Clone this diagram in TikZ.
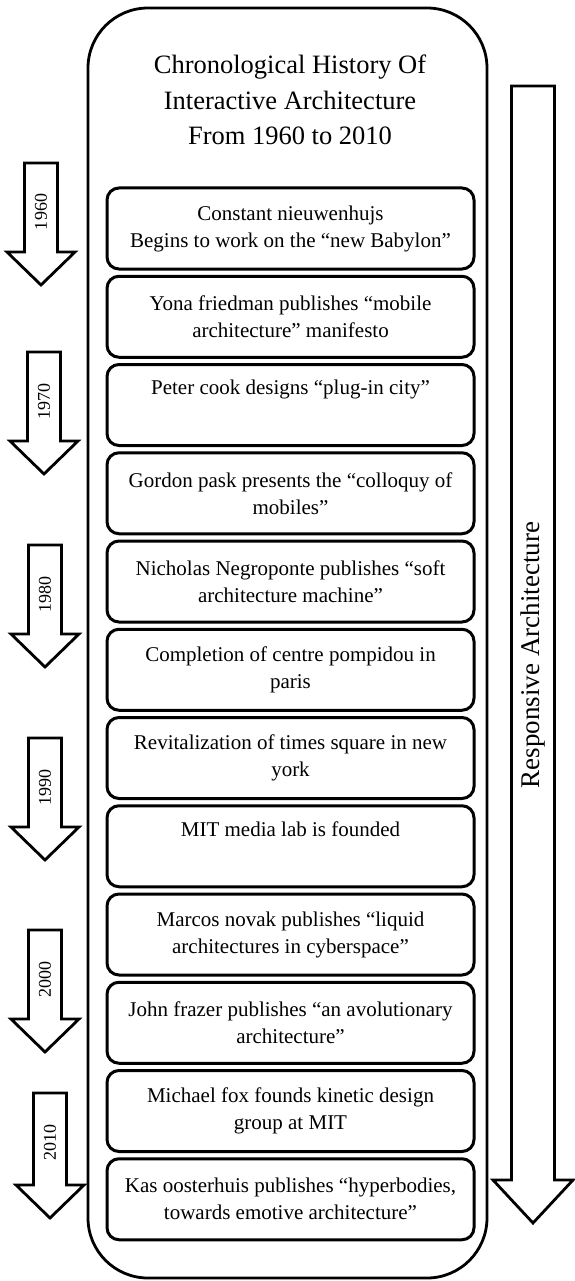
\documentclass[tikz,border=0pt]{standalone}
\usepackage{fontspec}
\setmainfont{Liberation Serif}
\usetikzlibrary{positioning}

\begin{document}
\begin{tikzpicture}[
  x=1pt, y=-1pt,
  event/.style={rectangle, draw, line width=3pt, rounded corners=12pt, minimum width=367pt, minimum height=81pt, align=center, font=\fontsize{21}{27}\selectfont},
  year/.style={rotate=90, font=\fontsize{18}{18}\selectfont},
  bigarrow/.style={line width=2.8pt, line join=miter},
]
  \useasboundingbox (0,0) rectangle (574,1281);

  % Frame and title
  \draw[line width=2.8pt, rounded corners=60pt] (88,8) rectangle (487,1278);
  \node[align=center, font=\fontsize{26.5}{35.5}\selectfont] (title) at (290,100) {Chronological History Of\\Interactive Architecture\\From 1960 to 2010};

  % Events
  \node[event] (e1) at (290.5,228.5) {Constant nieuwenhujs\\Begins to work on the “new Babylon”};
  \node[event] (e2) at (290.5,316.75) {Yona friedman publishes “mobile\\architecture” manifesto};
  \node[event] (e3) at (290.5,405) {Peter cook designs “plug-in city”\\\strut};
  \node[event] (e4) at (290.5,493.25) {Gordon pask presents the “colloquy of\\mobiles”};
  \node[event] (e5) at (290.5,581.5) {Nicholas Negroponte publishes “soft\\architecture machine”};
  \node[event] (e6) at (290.5,669.75) {Completion of centre pompidou in\\paris};
  \node[event] (e7) at (290.5,758) {Revitalization of times square in new\\york};
  \node[event] (e8) at (290.5,846.25) {MIT media lab is founded\\\strut};
  \node[event] (e9) at (290.5,934.5) {Marcos novak publishes “liquid\\architectures in cyberspace”};
  \node[event] (e10) at (290.5,1022.75) {John frazer publishes “an avolutionary\\architecture”};
  \node[event] (e11) at (290.5,1111) {Michael fox founds kinetic design\\group at MIT};
  \node[event] (e12) at (290.5,1199.25) {Kas oosterhuis publishes “hyperbodies,\\towards emotive architecture”};

  % Decades
  \draw[bigarrow] (41,163) ++(-16.5,0) -- ++(33,0) -- ++(0,89) -- ++(17.5,0) -- ++(-34,33) -- ++(-34,-33) -- ++(17.5,0) -- cycle;
  \node[year] (y1960) at (41,212) {1960};
  \draw[bigarrow] (44,352) ++(-16.5,0) -- ++(33,0) -- ++(0,89) -- ++(17.5,0) -- ++(-34,33) -- ++(-34,-33) -- ++(17.5,0) -- cycle;
  \node[year] (y1970) at (44,401) {1970};
  \draw[bigarrow] (45,545) ++(-16.5,0) -- ++(33,0) -- ++(0,89) -- ++(17.5,0) -- ++(-34,33) -- ++(-34,-33) -- ++(17.5,0) -- cycle;
  \node[year] (y1980) at (45,594) {1980};
  \draw[bigarrow] (45,738) ++(-16.5,0) -- ++(33,0) -- ++(0,89) -- ++(17.5,0) -- ++(-34,33) -- ++(-34,-33) -- ++(17.5,0) -- cycle;
  \node[year] (y1990) at (45,787) {1990};
  \draw[bigarrow] (45,930) ++(-16.5,0) -- ++(33,0) -- ++(0,89) -- ++(17.5,0) -- ++(-34,33) -- ++(-34,-33) -- ++(17.5,0) -- cycle;
  \node[year] (y2000) at (45,979) {2000};
  \draw[bigarrow] (50,1093) ++(-16.5,0) -- ++(33,0) -- ++(0,92) -- ++(17.5,0) -- ++(-34,33) -- ++(-34,-33) -- ++(17.5,0) -- cycle;
  \node[year] (y2010) at (50,1142) {2010};

  % Responsive Architecture
  \draw[bigarrow] (511.5,86) -- (554.5,86) -- (554.5,1180) -- (573,1180) -- (533,1223) -- (493,1180) -- (511.5,1180) -- cycle;
  \node[rotate=90, font=\fontsize{27}{27}\selectfont] (resp) at (533,655) {Responsive Architecture};
\end{tikzpicture}
\end{document}
